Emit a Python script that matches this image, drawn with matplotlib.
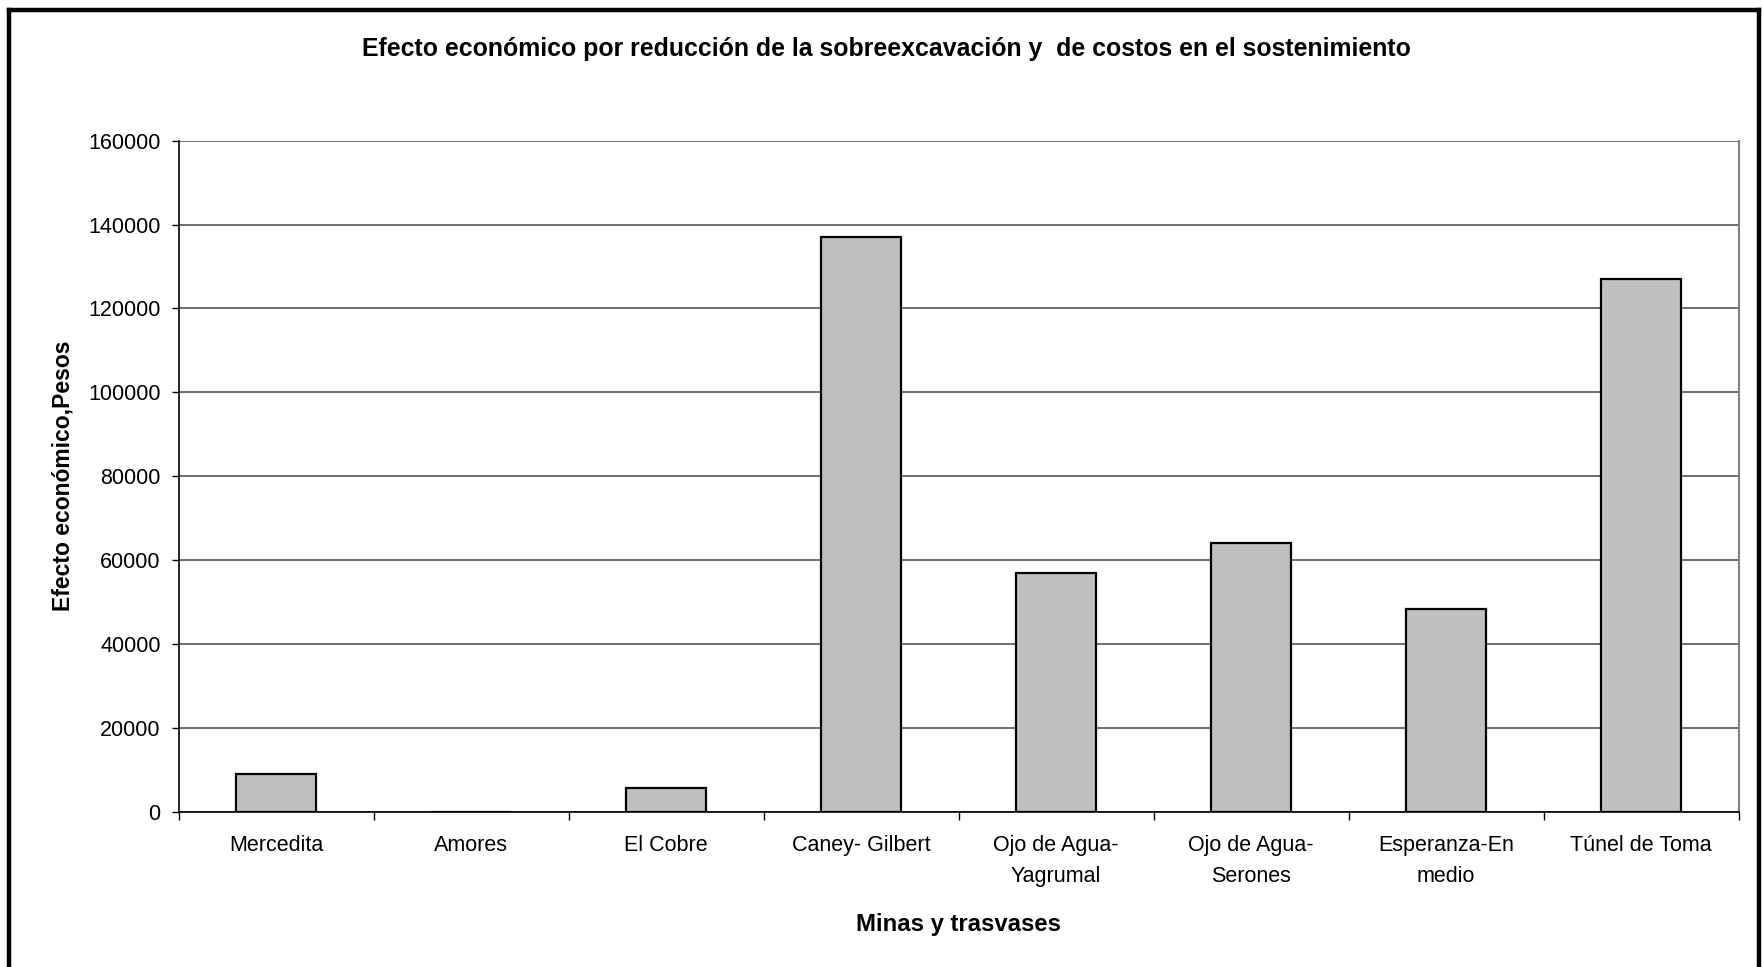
import numpy as np
from matplotlib import pyplot as plt
from matplotlib import rcParams
from matplotlib.lines import Line2D

# ------------------------------------------------------------------------------
# Data
# ------------------------------------------------------------------------------
minas = ["Mercedita", "Amores", "El Cobre", "Caney- Gilbert",
         "Ojo de Agua-\nYagrumal", "Ojo de Agua-\nSerones",
         "Esperanza-En\nmedio", "Túnel de Toma"]
efecto = [8900, 0, 5500, 137000, 57000, 64000, 48300, 127000]
yticks = [0, 20000, 40000, 60000, 80000, 100000, 120000, 140000, 160000]

# ------------------------------------------------------------------------------
# Plot characteristics
# ------------------------------------------------------------------------------
DPI = 100
rcParams['font.family'] = ['Liberation Sans', 'DejaVu Sans']
rcParams['figure.figsize'] = 17.62, 9.67

fig = plt.figure()
ax = fig.add_axes([0.1014, 0.1608, 0.8853, 0.6937])

pos = np.arange(len(minas))
ax.bar(pos, efecto, width=0.41, color='#C0C0C0', edgecolor='black',
       linewidth=1.6, zorder=3)

ax.set_xlim(-0.5, len(minas) - 0.5)
ax.set_ylim(0, 160000)
ax.set_yticks(yticks)
ax.set_yticklabels([str(v) for v in yticks])
ax.yaxis.grid(True, color='#555555', linewidth=1.2, zorder=0)

ax.set_xticks(pos)
ax.set_xticklabels(minas, linespacing=1.6)
ax.set_xticks(np.arange(len(minas) + 1) - 0.5, minor=True)
ax.tick_params(axis='x', which='major', length=0, pad=17, labelsize=15.5)
ax.tick_params(axis='x', which='minor', length=6, width=1.0, direction='out')
ax.tick_params(axis='y', length=5, width=1.0, pad=8, labelsize=15.5)

ax.spines['top'].set_visible(False)
ax.spines['right'].set_color('#808080')
ax.spines['right'].set_linewidth(1.5)
ax.spines['left'].set_linewidth(1.2)
ax.spines['bottom'].set_linewidth(1.2)

ax.set_ylabel("Efecto económico,Pesos", fontsize=16.5, fontweight='bold',
              labelpad=10)
ax.set_xlabel("Minas y trasvases", fontsize=17.2, fontweight='bold',
              labelpad=19)

fig.text(0.503, 0.949, "Efecto económico por reducción de la sobreexcavación y  de costos en el sostenimiento",
         ha='center', va='center', fontsize=17.9, fontweight='bold')

# ------------------------------------------------------------------------------
# Outer frame of the chart
# ------------------------------------------------------------------------------
W, H = 1762.0, 967.0
xl, xr, yt = 9 / W, 1758.5 / W, 1 - 9.5 / H
for xs, ys in [([xl, xl], [-0.1, yt]), ([xl, xr], [yt, yt]), ([xr, xr], [yt, -0.1])]:
    fig.add_artist(Line2D(xs, ys, color='black', linewidth=3.2,
                          transform=fig.transFigure, solid_capstyle='projecting'))

plt.savefig('out.png', dpi=DPI)
